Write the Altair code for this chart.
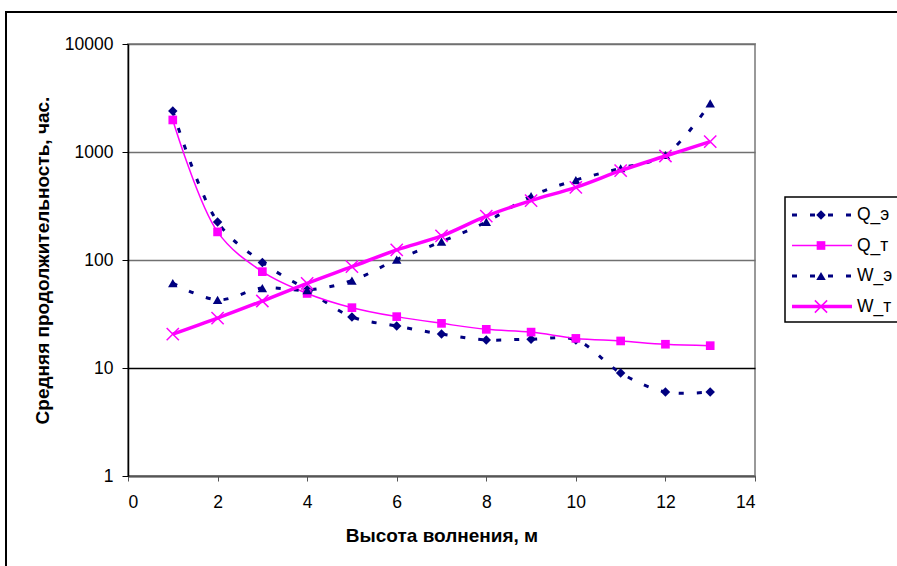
import altair as alt
import pandas as pd

# ---- data ----
heights = [1, 2, 3, 4, 5, 6, 7, 8, 9, 10, 11, 12, 13]
q_e = [2400, 225, 95, 53, 29.7, 24.5, 20.6, 18.2, 18.5, 18.2, 9.0, 6.0, 6.0]
q_t = [1980, 182, 78, 49, 36.2, 29.9, 25.9, 22.8, 21.5, 18.8, 17.8, 16.6, 16.1]
w_e = [61, 42.7, 55, 52.7, 64.4, 101, 148, 225, 390, 550, 707, 938, 2825]
w_t = [20.6, 29, 41.7, 60.8, 86.7, 124, 167, 255, 355, 471, 671, 918, 1247]

series_names = ["Q_э", "Q_т", "W_э", "W_т"]
series_values = [q_e, q_t, w_e, w_t]

x_ticks = [0, 2, 4, 6, 8, 10, 12, 14]
y_ticks = [1, 10, 100, 1000, 10000]

x_title = "Высота волнения, м"
y_title = "Средняя продолжительность, час."

# ---- styles ----
NAVY = "#000080"
MAG = "#FF00FF"
colors = [NAVY, MAG, NAVY, MAG]
dashes = [[5, 13], None, [5, 13], None]
widths = [3, 1.5, 3, 3.5]
cross_path = "M-1,-1L1,1M-1,1L1,-1"
shapes = ["diamond", "square", "triangle-up", cross_path]
sizes = [90, 75, 90, 150]
filled = [True, True, True, False]

FONT = "Liberation Sans"
W, H = 627, 432
PAD = {"left": 128, "top": 44, "right": 897 - 128 - W, "bottom": 566 - 44 - H}

X = alt.X(
    "h:Q",
    scale=alt.Scale(domain=[0, 14], nice=False, zero=False),
    axis=alt.Axis(
        values=x_ticks, grid=False, tickSize=5, labelPadding=12,
        domainColor="#555555", domainWidth=2, tickColor="#555555",
        title=x_title, titleFontWeight="bold", titleX=W / 2, titleY=59,
        titleBaseline="middle", titleAlign="center",
    ),
)
Y = alt.Y(
    "v:Q",
    scale=alt.Scale(type="log", domain=[1, 10000], nice=False),
    axis=alt.Axis(
        values=y_ticks, format="d", grid=True,
        gridColor={"condition": {"test": "datum.value === 10", "value": "#000000"}, "value": "#707070"},
        gridWidth=1.3, tickSize=6, labelPadding=9,
        domainColor="#000000", domainWidth=1.5,
        title=y_title, titleFontWeight="bold", titleAngle=270,
        titleX=-86, titleY=H / 2, titleBaseline="middle", titleAlign="center",
    ),
)

one = pd.DataFrame({"a": [0]})

layers = []
# outer chart border
layers.append(
    alt.Chart(one).mark_rect(fillOpacity=0, stroke="black", strokeWidth=2).encode(
        x=alt.value(-122), x2=alt.value(800), y=alt.value(-32), y2=alt.value(560)
    )
)

for name, vals, c, d, w, shp, sz, f in zip(series_names, series_values, colors, dashes, widths, shapes, sizes, filled):
    df = pd.DataFrame({"h": heights, "v": vals, "s": name})
    line_kw = dict(color=c, strokeWidth=w, interpolate="catmull-rom", strokeCap="butt")
    if d is not None:
        line_kw["strokeDash"] = d
    layers.append(alt.Chart(df).mark_line(**line_kw).encode(x=X, y=Y))
    pt_kw = dict(shape=shp, size=sz, filled=f, color=c, opacity=1)
    if not f:
        pt_kw["strokeWidth"] = 1.5
    layers.append(alt.Chart(df).mark_point(**pt_kw).encode(x=X, y=Y))

# legend box
layers.append(
    alt.Chart(one).mark_rect(fill="white", stroke="black", strokeWidth=1.5).encode(
        x=alt.value(657), x2=alt.value(800), y=alt.value(153), y2=alt.value(278)
    )
)
row_y = [171, 201.5, 232, 262.5]
for name, c, d, w, shp, sz, f, ry in zip(series_names, colors, dashes, widths, shapes, sizes, filled, row_y):
    rule_kw = dict(color=c, strokeWidth=w, strokeCap="butt")
    if d is not None:
        rule_kw["strokeDash"] = d
    layers.append(alt.Chart(one).mark_rule(**rule_kw).encode(
        x=alt.value(664), x2=alt.value(724), y=alt.value(ry)))
    pt_kw = dict(shape=shp, size=sz, filled=f, color=c, opacity=1)
    if not f:
        pt_kw["strokeWidth"] = 1.5
    layers.append(alt.Chart(one).mark_point(**pt_kw).encode(x=alt.value(693), y=alt.value(ry)))
    layers.append(alt.Chart(one).mark_text(
        text=name, font=FONT, fontSize=17.5, align="left", baseline="middle", color="black"
    ).encode(x=alt.value(729), y=alt.value(ry)))

chart = alt.layer(*layers).properties(
    width=W, height=H,
    autosize=alt.AutoSizeParams(type="none"),
    padding=PAD,
    background="white",
).configure_axis(
    labelFont=FONT, titleFont=FONT, labelFontSize=17.5, titleFontSize=19,
    labelColor="black", titleColor="black", tickColor="black",
).configure_view(stroke="#999999", strokeWidth=2)

chart.save("out.html", embed_options={"renderer": "svg", "actions": False})
